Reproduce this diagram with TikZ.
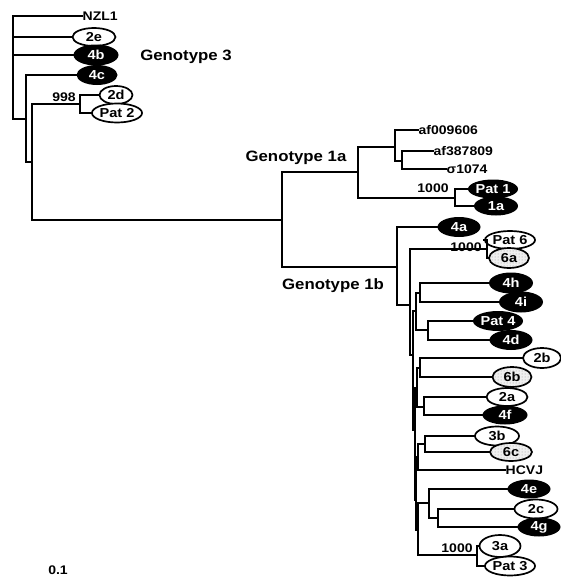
\documentclass[tikz,border=0pt]{standalone}
\usepackage{fontspec}
\setmainfont[FakeStretch=1.12]{Liberation Sans}
\usetikzlibrary{shapes.geometric,patterns}
\tikzset{
  br/.style={line width=1.4pt, line cap=rect},
  lf/.style={ellipse, inner sep=0.3pt, font=\fontsize{13}{13}\selectfont\bfseries},
  blk/.style={lf, fill=black, text=white},
  wht/.style={lf, draw, fill=white, line width=1.7pt},
  dtt/.style={lf, draw, line width=1.7pt, preaction={fill=gray!12}, pattern=dots, pattern color=gray!80},
  nm/.style={anchor=west, inner sep=0.5pt, font=\fontsize{12.5}{12.5}\selectfont\bfseries},
  bs/.style={inner sep=0pt, font=\fontsize{12.5}{12.5}\selectfont\bfseries},
  gt/.style={inner sep=0pt, font=\fontsize{15}{15}\selectfont\bfseries},
}
\begin{document}
\begin{tikzpicture}[x=1pt,y=-1pt]
\useasboundingbox (0,0) rectangle (561,581);
% ---- Genotype 3 leaves
\node[nm] (nzl) at (82,16) {NZL1};
\node[wht, minimum width=43pt, minimum height=18pt] (l2e) at (94,37) {2e};
\node[blk, minimum width=45pt, minimum height=21pt] (l4b) at (96,55) {4b};
\node[blk, minimum width=41pt, minimum height=20pt] (l4c) at (97,75) {4c};
\node[wht, minimum width=33pt, minimum height=18pt] (l2d) at (116,95) {2d};
\node[wht, minimum width=43pt, minimum height=19pt] (lp2) at (117,113) {Pat 2};
\node[bs] (b998) at (64,97) {998};
\node[gt] (g3lab) at (186,57) {Genotype 3};
% ---- Genotype 1a leaves
\node[nm] (af1) at (418,130) {af009606};
\node[nm] (af2) at (433,151) {af387809};
\node[nm] (sig) at (446,169) {σ1074};
\node[blk, minimum width=45pt, minimum height=19pt] (lp1) at (493,189) {Pat 1};
\node[blk, minimum width=44pt, minimum height=19pt] (l1a) at (496,206) {1a};
\node[bs] (b1000a) at (433,188) {1000};
\node[gt] (g1alab) at (296,158) {Genotype 1a};
% ---- Genotype 1b leaves
\node[blk, minimum width=43pt, minimum height=20pt] (l4a) at (459,227) {4a};
\node[wht, minimum width=41pt, minimum height=18pt] (lp6) at (510,240) {Pat 6};
\node[dtt, minimum width=40pt, minimum height=20pt] (l6a) at (509,258) {6a};
\node[blk, minimum width=44pt, minimum height=21pt] (l4h) at (511,283) {4h};
\node[blk, minimum width=44pt, minimum height=21pt] (l4i) at (521,302) {4i};
\node[blk, minimum width=44pt, minimum height=20pt] (lp4) at (498,321) {Pat 4};
\node[blk, minimum width=43pt, minimum height=20pt] (l4d) at (511,340) {4d};
\node[wht, minimum width=38pt, minimum height=20pt] (l2b) at (542,358) {2b};
\node[dtt, minimum width=39pt, minimum height=20pt] (l6b) at (512,377) {6b};
\node[wht, minimum width=41pt, minimum height=18pt] (l2a) at (507,397) {2a};
\node[blk, minimum width=45pt, minimum height=19pt] (l4f) at (505,415) {4f};
\node[wht, minimum width=44pt, minimum height=19pt] (l3b) at (497,436) {3b};
\node[dtt, minimum width=42pt, minimum height=18pt] (l6c) at (511,452) {6c};
\node[nm] (hcvj) at (505,470) {HCVJ};
\node[blk, minimum width=43pt, minimum height=19pt] (l4e) at (529,489) {4e};
\node[wht, minimum width=43pt, minimum height=19pt] (l2c) at (536,509) {2c};
\node[blk, minimum width=43pt, minimum height=19pt] (l4g) at (539,527) {4g};
\node[wht, minimum width=41pt, minimum height=22pt] (l3a) at (500,546) {3a};
\node[wht, minimum width=45pt, minimum height=19pt] (lp3) at (510,566) {Pat 3};
\node[bs] (b1000b) at (466,247) {1000};
\node[bs] (b1000c) at (457,548) {1000};
\node[gt] (g1blab) at (333,286) {Genotype 1b};
\node[bs] (scale) at (58,570) {0.1};
% ---- internal nodes
\coordinate (r3) at (13,66);
\coordinate (n26) at (26,119);
\coordinate (n32) at (32,162);
\coordinate (n998) at (80,104);
\coordinate (g1) at (282,220);
\coordinate (g1a) at (358,172);
\coordinate (ga1) at (395,147);
\coordinate (ga2) at (402,161);
\coordinate (na) at (455,198);
\coordinate (g1b) at (397,267);
\coordinate (nb1) at (410,305);
\coordinate (n6) at (487,249);
\coordinate (nbR) at (413,355);
\coordinate (nb3) at (416,311);
\coordinate (hi) at (420,293);
\coordinate (p4d) at (428,330);
\coordinate (nbL) at (415,430);
\coordinate (nb4) at (417,388);
\coordinate (c26) at (420,368);
\coordinate (c24) at (424,407);
\coordinate (nbM) at (416,500);
\coordinate (nbN) at (418,457);
\coordinate (c36) at (425,444);
\coordinate (nbO) at (418,530);
\coordinate (c4e) at (429,503);
\coordinate (c2c) at (438,518);
\coordinate (c3a) at (477,555);
% ---- branches
\begin{scope}[br]
\draw (r3) |- (nzl.west);
\draw (r3) |- (l2e.west);
\draw (r3) |- (l4b.west);
\draw (r3) |- (n26);
\draw (n26) |- (l4c.west);
\draw (n26) |- (n32);
\draw (n32) |- (n998);
\draw (n32) |- (g1);
\draw (n998) |- (l2d.west);
\draw (n998) |- (lp2.west);
\draw (g1) |- (g1a);
\draw (g1) |- (g1b);
\draw (g1a) |- (ga1);
\draw (g1a) |- (na);
\draw (ga1) |- (af1.west);
\draw (ga1) |- (ga2);
\draw (ga2) |- (af2.west);
\draw (ga2) |- (sig.west);
\draw (na) |- (lp1.west);
\draw (na) |- (l1a.west);
\draw (g1b) |- (l4a.west);
\draw (g1b) |- (nb1);
\draw (nb1) |- (n6);
\draw (nb1) |- (nbR);
\draw (n6) |- (lp6.west);
\draw (n6) |- (l6a.west);
\draw (nbR) |- (nb3);
\draw (nbR) |- (nbL);
\draw (nb3) |- (hi);
\draw (nb3) |- (p4d);
\draw (hi) |- (l4h.west);
\draw (hi) |- (l4i.west);
\draw (p4d) |- (lp4.west);
\draw (p4d) |- (l4d.west);
\draw (nbL) |- (nb4);
\draw (nbL) |- (nbM);
\draw (nb4) |- (c26);
\draw (nb4) |- (c24);
\draw (c26) |- (l2b.west);
\draw (c26) |- (l6b.west);
\draw (c24) |- (l2a.west);
\draw (c24) |- (l4f.west);
\draw (nbM) |- (nbN);
\draw (nbM) |- (nbO);
\draw (nbN) |- (c36);
\draw (nbN) |- (hcvj.west);
\draw (c36) |- (l3b.west);
\draw (c36) |- (l6c.west);
\draw (nbO) |- (c4e);
\draw (nbO) |- (c3a);
\draw (c4e) |- (l4e.west);
\draw (c4e) |- (c2c);
\draw (c2c) |- (l2c.west);
\draw (c2c) |- (l4g.west);
\draw (c3a) |- (l3a.west);
\draw (c3a) |- (lp3.west);
\end{scope}
\end{tikzpicture}
\end{document}
